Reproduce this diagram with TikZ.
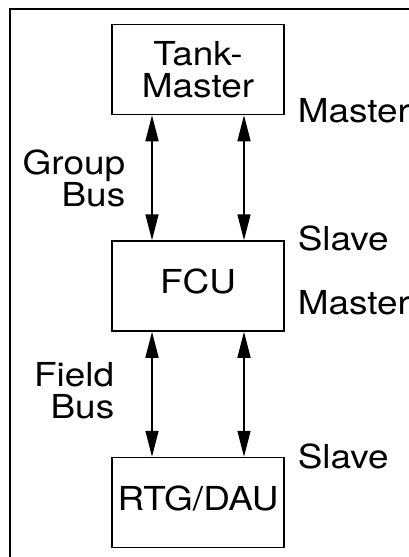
\documentclass[tikz,border=0pt]{standalone}
\usepackage{fontspec}
\setmainfont[FakeStretch=1.12]{TeX Gyre Heros}
\usetikzlibrary{arrows.meta}

\begin{document}
\begin{tikzpicture}
  [x=1pt,y=-1pt,line width=1.5pt,
   every node/.style={font=\fontsize{33}{32}\selectfont,inner sep=0pt},
   unit/.style={draw,minimum width=172pt,minimum height=90pt,align=center},
   oneline/.style={text depth=9pt},
   bus/.style={{Triangle[length=26pt,width=13pt]}-{Triangle[length=26pt,width=13pt]}}]
  \useasboundingbox (0,0) rectangle (409,557);
  \draw (10,557) -- (10,9) -- (409,9);
  \node[unit] (tank) at (198,69.5) {Tank-\\Master};
  \node[unit,oneline] (fcu) at (198,286) {FCU};
  \node[unit,oneline] (rtg) at (198,502.5) {RTG/DAU};
  \node[anchor=base west] (tankrole) at (297,122) {Master};
  \node[anchor=base west] (fcuup) at (297,250) {Slave};
  \node[anchor=base west] (fcudown) at (297,314) {Master};
  \node[anchor=base west] (rtgrole) at (297,468) {Slave};
  \node[anchor=north east,align=right] (groupbus) at (126,149) {Group\\Bus};
  \node[anchor=north east,align=right] (fieldbus) at (115,362) {Field\\Bus};
    \foreach \from/\to in {tank/fcu,fcu/rtg}
    {\draw[bus] ([xshift=-46pt]\from.south) -- ([xshift=-46pt]\to.north);
     \draw[bus] ([xshift=46pt]\from.south) -- ([xshift=46pt]\to.north);}
  \end{tikzpicture}
\end{document}
